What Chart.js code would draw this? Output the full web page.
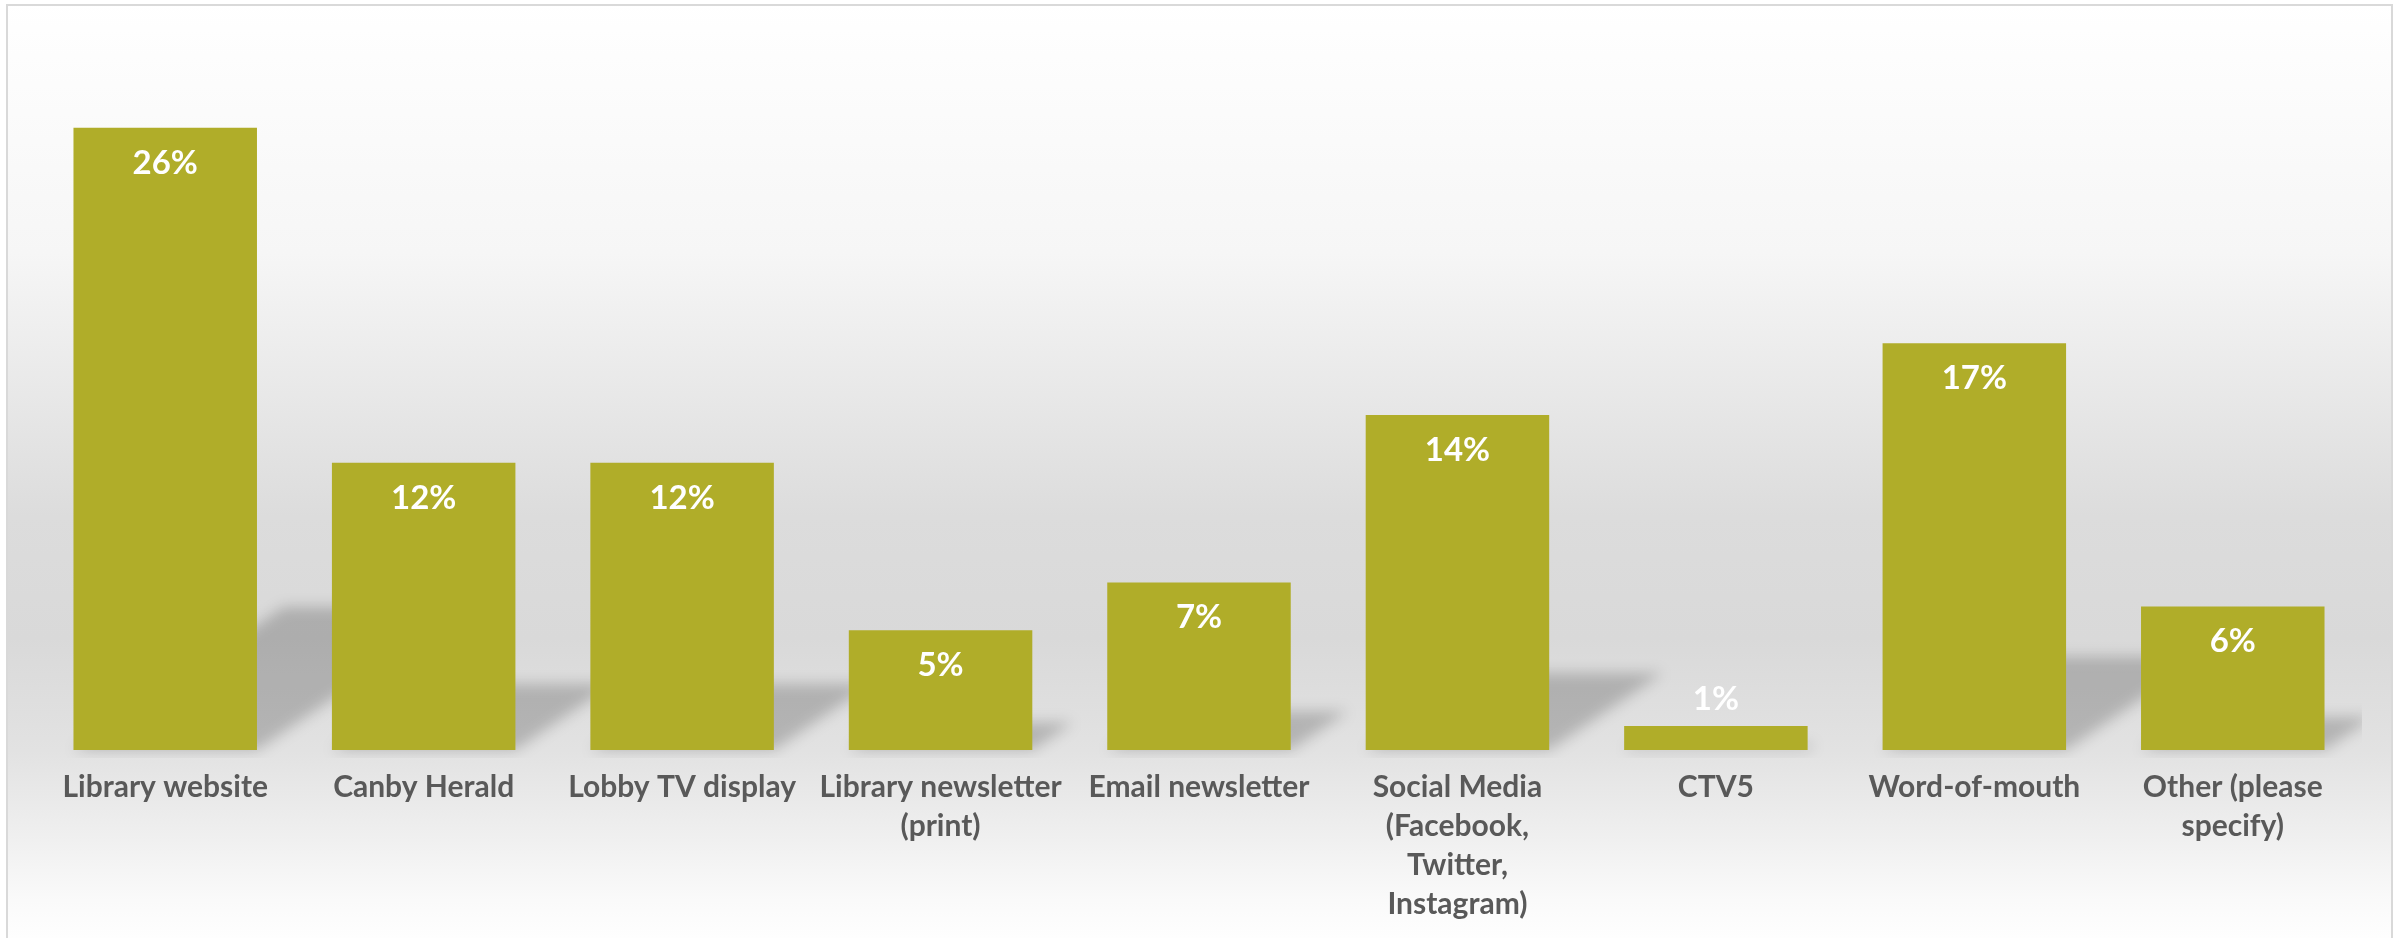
<!DOCTYPE html>
<html>
<head>
<meta charset="utf-8">
<script src="https://cdn.jsdelivr.net/npm/chart.js@4.4.0/dist/chart.umd.min.js"></script>
<style>
  html, body { margin: 0; padding: 0; background: #fff; }
</style>
</head>
<body>
<canvas id="sources" width="2402" height="938"></canvas>
<script>
// how people heard about library events
const sources = [
    'Library website',
    'Canby Herald',
    'Lobby TV display',
    ['Library newsletter', '(print)'],
    'Email newsletter',
    ['Social Media', '(Facebook,', 'Twitter,', 'Instagram)'],
    'CTV5',
    'Word-of-mouth',
    ['Other (please', 'specify)']
];
const shares = [26, 12, 12, 5, 7, 14, 1, 17, 6]; // percent of answers
const yMax = 30;

const barColor = '#b0ad29';
const textGray = '#595959';

// grey frame + soft vertical gradient behind everything
const backdrop = {
    id: 'backdrop',
    beforeDraw(chart) {
        const ctx = chart.ctx;
        const w = chart.width, h = chart.height;
        ctx.save();
        ctx.fillStyle = '#fff';
        ctx.fillRect(0, 0, w, h);
        const g = ctx.createLinearGradient(0, 0, 0, h);
        g.addColorStop(0, '#ffffff');
        g.addColorStop(0.27, '#f6f6f6');
        g.addColorStop(0.55, '#dcdcdc');
        g.addColorStop(0.68, '#d9d9d9');
        g.addColorStop(0.80, '#e2e2e2');
        g.addColorStop(0.89, '#efefef');
        g.addColorStop(0.96, '#fafafa');
        g.addColorStop(1, '#fefefe');
        ctx.fillStyle = g;
        ctx.fillRect(6, 5, w - 16, h - 5);
        ctx.strokeStyle = '#d9d9d9';
        ctx.lineWidth = 2;
        ctx.beginPath();
        ctx.moveTo(7, h);
        ctx.lineTo(7, 5);
        ctx.lineTo(w - 10, 5);
        ctx.lineTo(w - 10, h);
        ctx.stroke();
        ctx.restore();
    }
};

// perspective shadow falling up and to the right of each bar
const barShadows = {
    id: 'barShadows',
    beforeDatasetsDraw(chart) {
        const ctx = chart.ctx;
        const area = chart.chartArea;
        const meta = chart.getDatasetMeta(0);
        ctx.save();
        ctx.beginPath();
        ctx.rect(area.left, area.top, area.right - area.left, area.bottom - area.top + 8);
        ctx.clip();
        ctx.filter = 'blur(7px)';
        ctx.fillStyle = 'rgba(0, 0, 0, 0.2)';
        meta.data.forEach(bar => {
            const left = bar.x - bar.width / 2;
            const right = bar.x + bar.width / 2;
            const dh = (bar.base - bar.y) * 0.23;
            const dx = dh * 1.47;
            ctx.beginPath();
            ctx.moveTo(left, bar.base);
            ctx.lineTo(right, bar.base);
            ctx.lineTo(right + dx, bar.base - dh);
            ctx.lineTo(left + dx, bar.base - dh);
            ctx.closePath();
            ctx.fill();
        });
        ctx.restore();
    }
};

// white percentage labels, inside the bar top (above it when the bar is too short)
const barLabels = {
    id: 'barLabels',
    afterDatasetsDraw(chart) {
        const ctx = chart.ctx;
        const meta = chart.getDatasetMeta(0);
        ctx.save();
        ctx.fillStyle = '#ffffff';
        ctx.font = 'bold 33px Lato';
        ctx.textAlign = 'center';
        ctx.textBaseline = 'alphabetic';
        meta.data.forEach((bar, i) => {
            const tall = bar.base - bar.y > 70;
            ctx.fillText(shares[i] + '%', bar.x, tall ? bar.y + 46 : bar.y - 16);
        });
        ctx.restore();
    }
};

const ctxSources = document.getElementById('sources').getContext('2d');
const sourcesChart = new Chart(ctxSources, {
    type: 'bar',
    data: {
        labels: sources,
        datasets: [{
            data: shares,
            backgroundColor: barColor,
            borderWidth: 0,
            categoryPercentage: 1,
            barPercentage: 0.71
        }]
    },
    options: {
        responsive: false,
        animation: false,
        devicePixelRatio: 1,
        layout: { padding: { left: 36, right: 40, top: 32, bottom: 0 } },
        plugins: {
            legend: { display: false },
            tooltip: { enabled: false }
        },
        scales: {
            x: {
                grid: { display: false, drawTicks: false },
                border: { display: false },
                ticks: {
                    color: textGray,
                    font: { family: 'Lato', size: 30, weight: 'bold', lineHeight: 1.3 },
                    padding: 18,
                    maxRotation: 0,
                    autoSkip: false
                },
                afterFit(scale) { scale.height = 188; }
            },
            y: { display: false, min: 0, max: yMax }
        }
    },
    plugins: [backdrop, barShadows, barLabels]
});
</script>
</body>
</html>
